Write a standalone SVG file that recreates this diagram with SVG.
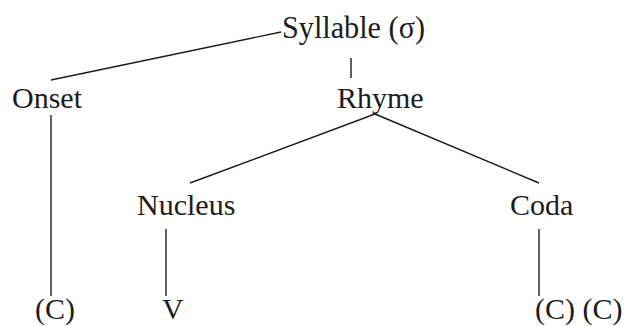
<svg xmlns="http://www.w3.org/2000/svg" width="624" height="326" viewBox="0 0 624 326">
  <style>
    .lbl { font-family: "Liberation Serif", "Times New Roman", serif; font-size: 30px; fill: #1c1c1c; }
    .top { font-size: 31px; }
    .edge { stroke: #1c1c1c; stroke-width: 1.4; fill: none; stroke-linecap: butt; }
  </style>
  <rect width="624" height="326" fill="#ffffff"/>

  <!-- tree branches -->
  <g id="connectors">
    <line class="edge" x1="51" y1="80" x2="281" y2="32"/>
    <line class="edge" x1="351" y1="58" x2="351" y2="78"/>
    <line class="edge" x1="51" y1="115" x2="51" y2="296"/>
    <line class="edge" x1="375" y1="114" x2="190" y2="183"/>
    <line class="edge" x1="375" y1="114" x2="539" y2="183"/>
    <line class="edge" x1="166" y1="229" x2="166" y2="296"/>
    <line class="edge" x1="539" y1="229" x2="539" y2="296"/>
  </g>

  <g id="syllable"><text class="lbl top" x="282" y="38" textLength="143" lengthAdjust="spacingAndGlyphs">Syllable (σ)</text></g>
  <g id="onset"><text class="lbl" x="12" y="108">Onset</text></g>
  <g id="rhyme"><text class="lbl" x="337" y="108">Rhyme</text></g>
  <g id="nucleus"><text class="lbl" x="137" y="215">Nucleus</text></g>
  <g id="coda"><text class="lbl" x="510" y="215">Coda</text></g>
  <g id="onset-c"><text class="lbl" x="35" y="319">(C)</text></g>
  <g id="nucleus-v"><text class="lbl" x="162" y="319">V</text></g>
  <g id="coda-cc"><text class="lbl" x="535" y="319">(C) (C)</text></g>
</svg>
